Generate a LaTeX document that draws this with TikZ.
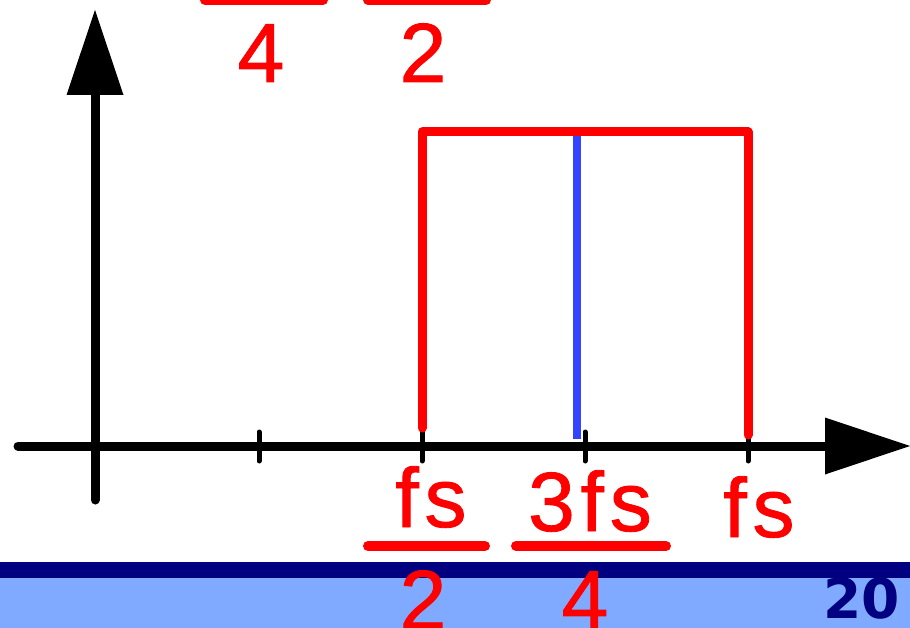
\documentclass[tikz,border=0pt]{standalone}
\usepackage{fontspec}
\setmainfont{Liberation Sans}
\newfontfamily\sigfont[FakeBold=1, LetterSpace=7]{Liberation Sans}
\newfontfamily\slidefont{DejaVu Sans}
\usepackage{xcolor}
\usepackage{tikz}
\usetikzlibrary{arrows.meta}
\definecolor{sigred}{RGB}{255,0,0}
\definecolor{cutblue}{RGB}{51,68,255}
\definecolor{navyband}{RGB}{0,0,128}
\definecolor{lightband}{RGB}{128,170,255}
\tikzset{
  axis/.style={line width=9pt, line cap=round,
    -{Triangle[length=85pt, width=57pt, line width=0pt]}},
  tick/.style={line width=5pt, line cap=round},
  band/.style={sigred, line width=9pt, line cap=round, line join=round},
  fracbar/.style={sigred, line width=10pt, line cap=round},
  lbl/.style={text=sigred, font=\sigfont\fontsize{84}{84}\selectfont, inner sep=0pt, anchor=base}
}
\begin{document}
\begin{tikzpicture}[x=1pt, y=-1pt]
    \useasboundingbox (0,0) rectangle (910,628);
    % footer bands
    \fill[navyband] (0,562) rectangle (910,578);
    \fill[lightband] (0,578) rectangle (910,628);
    \node[font=\slidefont\bfseries\fontsize{55}{55}\selectfont, text=navyband,
          inner sep=0pt, anchor=base east] (page) at (900,618) {20};
    % axes
    \coordinate (xl) at (18,446);
    \coordinate (xr) at (910,446);
    \coordinate (yb) at (95,500);
    \coordinate (yt) at (95,10);
    \draw[axis] (xl) -- (xr);
    \draw[axis] (yb) -- (yt);
    \foreach \x in {259,422,585,748}
        \draw[tick] (\x,432) -- (\x,461);
    % passband
    \coordinate (pa) at (422,428);
    \coordinate (pb) at (422,132);
    \coordinate (pc) at (748,132);
    \coordinate (pd) at (748,435);
    \draw[band] (pa) -- (pb) -- (pc) -- (pd);
    \coordinate (ca) at (577,136);
    \coordinate (cb) at (577,439);
    \draw[cutblue, line width=8pt] (ca) -- (cb);
    % labels under the axis
    \node[lbl] (halfnum) at (431,527) {fs};
    \coordinate (halfl) at (368,546);
    \coordinate (halfr) at (485,546);
    \draw[fracbar] (halfl) -- (halfr);
    \node[lbl] (halfden) at (423,629) {2};
    \node[lbl] (tqnum) at (590,531) {3fs};
    \coordinate (tql) at (516,546);
    \coordinate (tqr) at (666,546);
    \draw[fracbar] (tql) -- (tqr);
    \node[lbl] (tqden) at (585,629) {4};
    \node[lbl] (full) at (759,537) {fs};
    % labels cut at the top
    \coordinate (qtl) at (205,0);
    \coordinate (qtr) at (323,0);
    \draw[fracbar] (qtl) -- (qtr);
    \node[lbl] (qtden) at (261,82) {4};
    \coordinate (htl) at (368,0);
    \coordinate (htr) at (486,0);
    \draw[fracbar] (htl) -- (htr);
    \node[lbl] (htden) at (423,82) {2};
\end{tikzpicture}
\end{document}
